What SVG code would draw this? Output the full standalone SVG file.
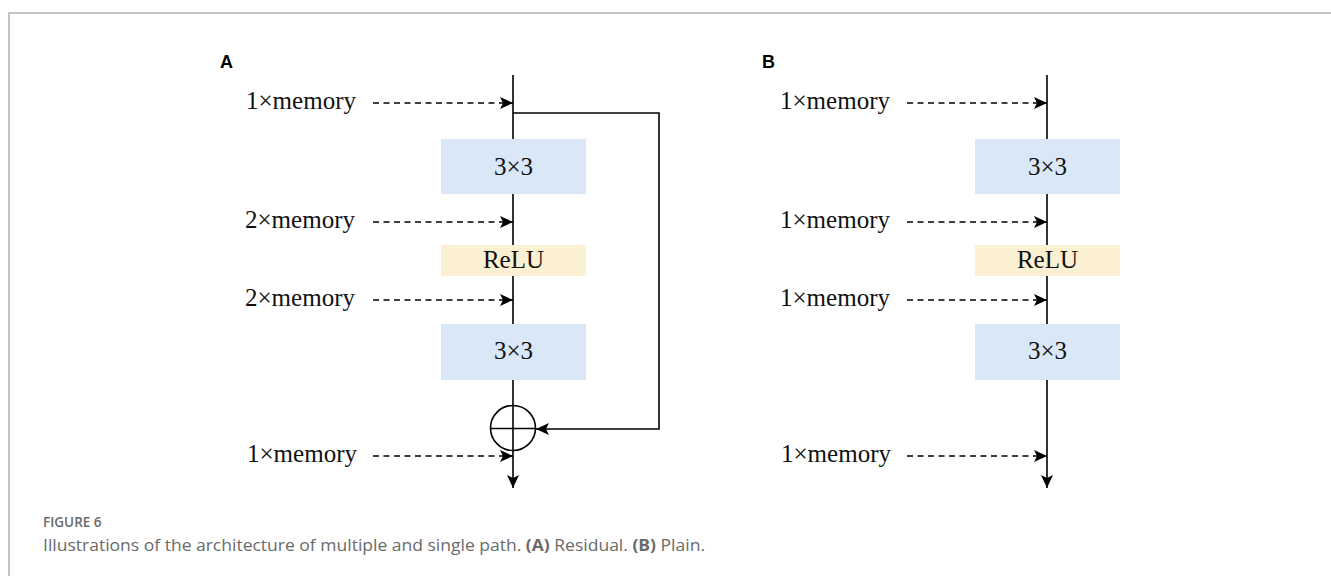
<svg xmlns="http://www.w3.org/2000/svg" width="1331" height="576" viewBox="0 0 1331 576">
  <style>
    .lbl { font-family: "Liberation Serif", "Times New Roman", serif; font-size: 24.5px; fill: #111; }
    .box-txt { font-family: "Liberation Serif", "Times New Roman", serif; font-size: 25px; fill: #111; text-anchor: middle; }
    .panel { font-family: "Liberation Sans", Arial, sans-serif; font-size: 18px; font-weight: bold; fill: #000; }
    .conv { fill: #dae7f7; }
    .relu { fill: #fcf0d2; }
    .trunk { stroke: #000; stroke-width: 1.6; fill: none; }
    .mem { stroke: #000; stroke-width: 1.6; stroke-dasharray: 6 4.5; fill: none; }
    .cap { font-family: "Open Sans", "Noto Sans", sans-serif; fill: #6a6a6a; }
  </style>
  <defs>
    <marker id="tip" viewBox="0 0 13 12" refX="13" refY="6" markerWidth="13" markerHeight="12" markerUnits="userSpaceOnUse" orient="auto">
      <path d="M0,0 L13,6 L0,12 L3,6 Z" fill="#000"/>
    </marker>
  </defs>

  <rect width="1331" height="576" fill="#fff"/>
  <!-- page frame -->
  <path d="M9,580 L9,13 L1340,13" fill="none" stroke="#b3b3b3" stroke-width="1.5"/>

  <!-- panel letters -->
  <text class="panel" x="220" y="68">A</text>
  <text class="panel" x="762" y="68">B</text>

  <!-- connectors -->
  <g id="connectors">
    <!-- residual path A -->
    <line class="trunk" x1="513" y1="75" x2="513" y2="488" marker-end="url(#tip)"/>
    <path class="trunk" d="M513,113 L659,113 L659,429 L536,429" marker-end="url(#tip)"/>
    <line class="mem" x1="373" y1="103" x2="513" y2="103" marker-end="url(#tip)"/>
    <line class="mem" x1="373" y1="222" x2="513" y2="222" marker-end="url(#tip)"/>
    <line class="mem" x1="373" y1="300" x2="513" y2="300" marker-end="url(#tip)"/>
    <line class="mem" x1="373" y1="456" x2="513" y2="456" marker-end="url(#tip)"/>
    <!-- plain path B -->
    <line class="trunk" x1="1047" y1="75" x2="1047" y2="488" marker-end="url(#tip)"/>
    <line class="mem" x1="907" y1="103" x2="1047" y2="103" marker-end="url(#tip)"/>
    <line class="mem" x1="907" y1="222" x2="1047" y2="222" marker-end="url(#tip)"/>
    <line class="mem" x1="907" y1="300" x2="1047" y2="300" marker-end="url(#tip)"/>
    <line class="mem" x1="907" y1="456" x2="1047" y2="456" marker-end="url(#tip)"/>
  </g>

  <!-- memory labels -->
  <g id="labels-a">
    <text class="lbl" x="246" y="109" textLength="110" lengthAdjust="spacingAndGlyphs">1×memory</text>
    <text class="lbl" x="245" y="228" textLength="110" lengthAdjust="spacingAndGlyphs">2×memory</text>
    <text class="lbl" x="245" y="306" textLength="110" lengthAdjust="spacingAndGlyphs">2×memory</text>
    <text class="lbl" x="247" y="462" textLength="110" lengthAdjust="spacingAndGlyphs">1×memory</text>
  </g>
  <g id="labels-b">
    <text class="lbl" x="780" y="109" textLength="110" lengthAdjust="spacingAndGlyphs">1×memory</text>
    <text class="lbl" x="780" y="228" textLength="110" lengthAdjust="spacingAndGlyphs">1×memory</text>
    <text class="lbl" x="780" y="306" textLength="110" lengthAdjust="spacingAndGlyphs">1×memory</text>
    <text class="lbl" x="781" y="462" textLength="110" lengthAdjust="spacingAndGlyphs">1×memory</text>
  </g>

  <!-- residual block A -->
  <g id="a-conv1"><rect class="conv" x="441" y="139" width="145" height="55"/><text class="box-txt" x="513.5" y="175">3×3</text></g>
  <g id="a-relu"><rect class="relu" x="441" y="245" width="145" height="31"/><text class="box-txt" x="513.5" y="268">ReLU</text></g>
  <g id="a-conv2"><rect class="conv" x="441" y="324" width="145" height="56"/><text class="box-txt" x="513.5" y="359">3×3</text></g>
  <g id="a-add">
    <circle cx="513" cy="428" r="22.5" fill="none" stroke="#000" stroke-width="1.6"/>
    <line x1="490.5" y1="428.5" x2="535.5" y2="428.5" stroke="#000" stroke-width="1.6"/>
  </g>

  <!-- plain block B -->
  <g id="b-conv1"><rect class="conv" x="975" y="139" width="145" height="55"/><text class="box-txt" x="1047.5" y="175">3×3</text></g>
  <g id="b-relu"><rect class="relu" x="975" y="245" width="145" height="31"/><text class="box-txt" x="1047.5" y="268">ReLU</text></g>
  <g id="b-conv2"><rect class="conv" x="975" y="324" width="145" height="56"/><text class="box-txt" x="1047.5" y="359">3×3</text></g>

  <!-- caption -->
  <text class="cap" x="43" y="527" font-size="13.5" font-weight="600" fill="#777">FIGURE 6</text>
  <text class="cap" x="43" y="551" font-size="16" textLength="662" lengthAdjust="spacingAndGlyphs">Illustrations of the architecture of multiple and single path. <tspan font-weight="bold">(A)</tspan> Residual. <tspan font-weight="bold">(B)</tspan> Plain.</text>
</svg>
